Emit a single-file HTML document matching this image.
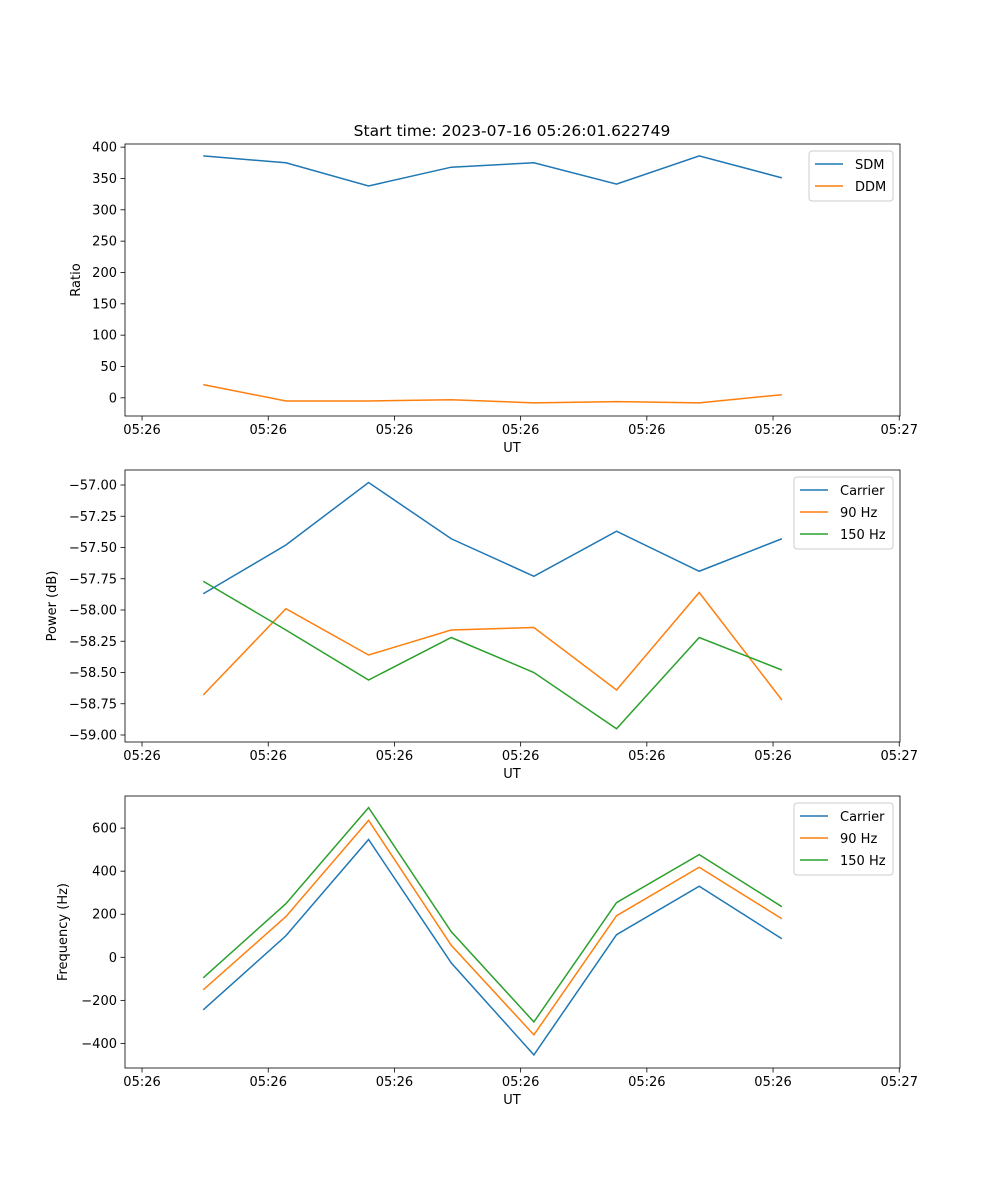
<!DOCTYPE html>
<html><head><meta charset="utf-8"><style>
body{margin:0;background:#fff;}
svg{display:block;font-family:"DejaVu Sans","Liberation Sans",sans-serif;}
</style></head><body>
<svg id="c" width="1000" height="1200" xmlns="http://www.w3.org/2000/svg">
<text x="512" y="136" font-size="15.5" text-anchor="middle">Start time: 2023-07-16 05:26:01.622749</text>
</svg>
<script>
const times = [4.85, 11.4, 17.95, 24.5, 31.05, 37.6, 44.15, 50.7];
const xTicks = [0, 10, 20, 30, 40, 50, 60];
const xTickLabels = ["05:26","05:26","05:26","05:26","05:26","05:26","05:27"];
const sdm = [386, 375, 338, 368, 375, 341, 386, 351];
const ddm = [21, -5, -5, -3, -8, -6, -8, 5];
const powCarrier = [-57.87, -57.48, -56.98, -57.43, -57.73, -57.37, -57.69, -57.43];
const pow90 = [-58.68, -57.99, -58.36, -58.16, -58.14, -58.64, -57.86, -58.72];
const pow150 = [-57.77, -58.16, -58.56, -58.22, -58.50, -58.95, -58.22, -58.48];
const frqCarrier = [-244, 100, 547, -26, -453, 105, 330, 86];
const frq90 = [-151, 189, 636, 56, -360, 193, 418, 179];
const frq150 = [-95, 249, 695, 119, -300, 254, 477, 235];
const ratioTicks = [0, 50, 100, 150, 200, 250, 300, 350, 400];
const powerTicks = [-59, -58.75, -58.5, -58.25, -58, -57.75, -57.5, -57.25, -57];
const freqTicks = [-400, -200, 0, 200, 400, 600];

const svg = document.getElementById('c');
const NS = 'http://www.w3.org/2000/svg';
function mk(tag, attrs, parent){const e=document.createElementNS(NS,tag);for(const k in attrs)e.setAttribute(k,attrs[k]);(parent||svg).appendChild(e);return e;}
const L=125,R=900,xmin=-1.35,xmax=60.06;
const xs=t=>L+(t-xmin)/(xmax-xmin)*(R-L);
const colors=['#1f77b4','#ff7f0e','#2ca02c'];

function panel(name, top, bot, ymin, ymax, yticks, fmt, ylabel, series, names, legW){
  const ys=v=>bot-(v-ymin)/(ymax-ymin)*(bot-top);
  const g=mk('g',{});
  
  
  xTicks.forEach((t,i)=>{
    const x=xs(t);
    mk('line',{x1:x,x2:x,y1:bot,y2:bot+4.5,stroke:'#000','stroke-width':0.8},g);
    const tx=mk('text',{x:x,y:bot+18,'font-size':13,'text-anchor':'middle'},g);
    tx.textContent=xTickLabels[i];
    
    
  });
  yticks.forEach(v=>{
    const y=ys(v);
    mk('line',{x1:L-4.5,x2:L,y1:y,y2:y,stroke:'#000','stroke-width':0.8},g);
    const tx=mk('text',{x:L-8,y:y+4.5,'font-size':13,'text-anchor':'end'},g);
    tx.textContent=fmt(v);
    
    
  });
  const xl=mk('text',{x:512,y:bot+36,'font-size':13,'text-anchor':'middle'},g);
  xl.textContent='UT';
  
  
  const yx=name==='ratio'?80:name==='power'?56:67;
  const yl=mk('text',{x:yx,y:(top+bot)/2,'font-size':13,'text-anchor':'middle',transform:`rotate(-90 ${yx} ${(top+bot)/2})`},g);
  yl.textContent=ylabel;
  
  
  series.forEach((s,i)=>{
    const p=mk('polyline',{points:s.map((v,j)=>xs(times[j])+','+ys(v)).join(' '),fill:'none',stroke:colors[i],'stroke-width':1.5},g);
    
    
  });
  mk('rect',{x:L,y:top,width:R-L,height:bot-top,fill:'none',stroke:'#000','stroke-width':0.8},g);
  const lg=mk('g',{},g);
  
  
  const lx=R-7-legW, ly=top+7;
  mk('rect',{x:lx,y:ly,width:legW,height:names.length*22+6,rx:3,fill:'#fff',stroke:'#ccc','stroke-width':1},lg);
  names.forEach((n,i)=>{
    const y=ly+13+i*22;
    mk('line',{x1:lx+6,x2:lx+34,y1:y,y2:y,stroke:colors[i],'stroke-width':1.5},lg);
    const t=mk('text',{x:lx+46,y:y+5,'font-size':13},lg);
    t.textContent=n;
    
    
  });
}
panel('ratio',144,416,-29,405,ratioTicks,v=>String(v),'Ratio',[sdm,ddm],['SDM','DDM'],84);
panel('power',470,742,-59.056,-56.88,powerTicks,v=>(v<0?'\u2212':'')+Math.abs(v).toFixed(2),'Power (dB)',[powCarrier,pow90,pow150],['Carrier','90 Hz','150 Hz'],99);
panel('frequency',796,1068,-514,749,freqTicks,v=>(v<0?'\u2212':'')+Math.abs(v),'Frequency (Hz)',[frqCarrier,frq90,frq150],['Carrier','90 Hz','150 Hz'],99);
</script>
</body></html>
